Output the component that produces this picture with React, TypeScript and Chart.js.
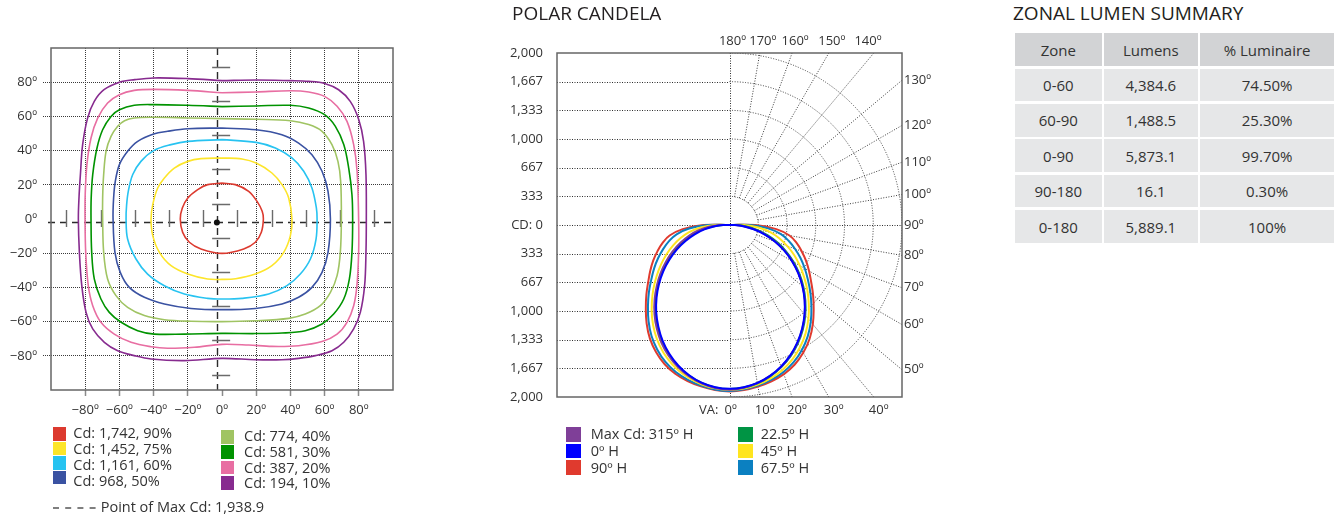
import React, { useEffect, useRef } from 'react';
import { Chart, registerables } from 'chart.js';

Chart.register(...registerables);

const FONT = "'Open Sans', 'Noto Sans', sans-serif";
const INK = '#333333';
Chart.defaults.font.family = FONT;

type Pt = [number, number];

// ---------------- Isocandela chart data ----------------
const isoTickValues = [-80, -60, -40, -20, 0, 20, 40, 60, 80];
const isoTickLabels = ['−80º', '−60º', '−40º', '−20º', '0º', '20º', '40º', '60º', '80º'];
const isoMaxPoint: Pt = [-3, -2];
const isoCrossTicks = [-91, -71, -51, -31, -11, 9, 29, 49, 69, 89];
const isoCrossCenter: Pt = [-0.5, 0.3];

const isoLevelLabels = [
  'Cd: 1,742, 90%', 'Cd: 1,452, 75%', 'Cd: 1,161, 60%', 'Cd: 968, 50%',
  'Cd: 774, 40%', 'Cd: 581, 30%', 'Cd: 387, 20%', 'Cd: 194, 10%',
];
const isoLevelColors = ['#dc3a2f', '#fde52a', '#27c3f1', '#3a52a2', '#a0c463', '#009300', '#e86ea2', '#872b8f'];
const isoMaxLabel = 'Point of Max Cd: 1,938.9';

const contour90: Pt[] = [[0, 21], [7.8, 20.1], [15.6, 16.2], [20.5, 10.3], [23.5, 4.5], [24.2, 0], [23, -7.8], [19.5, -13.6], [12.7, -17.5], [0, -20.1], [-12.3, -17.5], [-19.1, -13.6], [-23, -7.8], [-24.4, 0], [-23.2, 6.4], [-20, 12.3], [-14.2, 17.2], [-8.4, 20.1]];
const contour75: Pt[] = [[0, 35.7], [11.7, 35.1], [20, 32.7], [29.2, 26.9], [35.1, 20.1], [39, 12.3], [40.9, 0], [40, -9.7], [36.1, -19.5], [29.2, -27.3], [19.5, -32.2], [8, -34.9], [0, -35.3], [-8.4, -35.1], [-20, -32.2], [-29.8, -27.3], [-36.6, -19.5], [-40.5, -9.7], [-41.5, 0], [-40.5, 8.4], [-37.6, 18.1], [-33.7, 24], [-27.9, 29.8], [-20, 33.7], [-12.3, 35.3]];
const contour60: Pt[] = [[0, 46.4], [20, 44.8], [31.2, 41.5], [40.9, 35.7], [47.8, 27.9], [52.6, 18.1], [55.2, 6.4], [55.6, 0], [55, -11.7], [51.7, -23.4], [45.8, -32.2], [38, -39], [27.3, -43.9], [11.7, -46.4], [0, -46.8], [-8.4, -46.4], [-22, -43.9], [-33.7, -39], [-43.5, -32.2], [-50.3, -23.4], [-55.2, -11.7], [-56.1, 0], [-55.8, 8], [-54.8, 16.2], [-52.2, 26], [-47.4, 33.7], [-40, 40], [-29.8, 43.5], [-20, 45.4]];
const contour50: Pt[] = [[0, 53.2], [20, 52.2], [35, 49.3], [44.8, 44.4], [52.6, 37.6], [58.5, 27.9], [62, 16.2], [63.4, 0], [62, -19.5], [58.5, -31.2], [52.6, -40], [44.8, -45.8], [35.1, -49.7], [19.5, -52.3], [0, -53], [-18.1, -52.3], [-33.7, -49.7], [-45.4, -45.8], [-54.2, -40], [-59.5, -31.2], [-62.6, -19.5], [-63.7, 0], [-63.4, 12], [-62.4, 22], [-60, 31.8], [-55.2, 39.6], [-49.3, 45.4], [-40, 49.7], [-31.8, 51.3], [-20, 52.8]];
const contour40: Pt[] = [[0, 58.7], [20, 58.3], [40, 57.5], [50.7, 55.2], [58.5, 51.3], [64.3, 43.5], [67.8, 33.7], [69.4, 22], [69.8, 0], [69.2, -19.5], [67.3, -33.1], [63.4, -42.9], [57.5, -50.7], [48.7, -55.6], [39, -58.1], [19.5, -59.5], [0, -60], [-18.1, -59.8], [-33.7, -58.9], [-45.4, -56.5], [-55.2, -51.7], [-62, -44.8], [-66.9, -35.1], [-69.2, -19.5], [-69.8, 0], [-69.8, 12.3], [-69.2, 26], [-67.8, 39.6], [-64.9, 48.3], [-61, 54.2], [-57, 57.5], [-51.3, 59.1], [-40, 59.5], [-20, 59.1]];
const contour30: Pt[] = [[0, 65.7], [20, 66.1], [40, 66.5], [50.7, 64.9], [60, 61], [66.3, 54.2], [71.2, 43.5], [74.1, 29.8], [76, 14.2], [76.4, 0], [76, -19.5], [74.5, -35], [71.2, -46.8], [65.3, -55.6], [58.5, -61.4], [48.7, -65.3], [35.1, -66.7], [19.5, -67], [0, -66.9], [-22, -67.3], [-39.6, -67.3], [-49.3, -65.3], [-59, -60.4], [-65.9, -54.6], [-70.8, -46.8], [-74.7, -35], [-76.2, -19.5], [-76.6, 0], [-76.5, 12.3], [-75.6, 26], [-73.1, 41.5], [-69.8, 52.2], [-64.9, 60], [-60, 63.9], [-51.3, 66.5], [-40, 66.9], [-20, 66.5]];
const contour20: Pt[] = [[0, 73.8], [20, 74.3], [40, 75], [50.7, 74.3], [60, 71.7], [67.3, 65.9], [73.1, 57.1], [77, 43.5], [79, 27.9], [79.9, 0], [79.9, -19.5], [78.9, -39], [77, -50.7], [73.1, -60.4], [67.3, -67.3], [58.5, -71.7], [44.8, -74.1], [29.2, -74.5], [15.6, -73.7], [0, -73.3], [-16.2, -75], [-31.8, -75.6], [-41.5, -74.7], [-53.2, -72.1], [-63, -67.3], [-70.8, -60.4], [-75.6, -50.7], [-78.2, -39], [-79.7, -19.5], [-80.1, 0], [-80, 14.2], [-79, 31.8], [-76.6, 47.4], [-72.7, 59], [-66.9, 67.8], [-60, 72.7], [-51.3, 75.2], [-40, 75.8], [-20, 75.2]];
const contour10: Pt[] = [[0, 80.9], [20, 81.3], [40, 80.9], [50.7, 80.5], [60, 79.3], [68.2, 75.6], [75, 68.8], [80, 58.1], [82.8, 45.4], [84.2, 26], [84.4, 0], [84.2, -19.5], [83.4, -39], [80.9, -54.6], [77, -64.3], [71.2, -72.1], [64.3, -77], [54.6, -79.9], [44.8, -81.5], [35.1, -82.3], [19.5, -82.3], [0, -81.5], [-22, -82.8], [-41.5, -81.9], [-51.3, -79.9], [-61, -77], [-68.8, -72.1], [-75.6, -64.3], [-79.5, -54.6], [-82, -39], [-83.4, -19.5], [-84, 0], [-83.6, 13], [-82.8, 26], [-81.5, 43.5], [-78.6, 59], [-74.7, 68.8], [-69, 75.6], [-60, 80], [-51, 81.5], [-40, 82.5], [-20, 82.1]];
const isoContours = [contour90, contour75, contour60, contour50, contour40, contour30, contour20, contour10];

// ---------------- Polar candela data ----------------
const cdTickValues = [-2000, -1666.67, -1333.33, -1000, -666.67, -333.33, 0, 333.33, 666.67, 1000, 1333.33, 1666.67, 2000];
const cdTickLabels = ['2,000', '1,667', '1,333', '1,000', '667', '333', 'CD: 0', '333', '667', '1,000', '1,333', '1,667', '2,000'];
const cdRings = [333.33, 666.67, 1000, 1333.33, 1666.67, 2000];
const radialAngles = [10, 20, 30, 40, 50, 60, 70, 80, 100, 110, 120, 130, 140, 150, 160, 170];
const topAngles = [180, 170, 160, 150, 140];
const topAngleLabels = ['180º', '170º', '160º', '150º', '140º'];
const rightAngles = [130, 120, 110, 100, 90, 80, 70, 60, 50];
const rightAngleLabels = ['130º', '120º', '110º', '100º', '90º', '80º', '70º', '60º', '50º'];
const bottomAngles = [0, 10, 20, 30, 40];
const bottomAngleLabels = ['0º', '10º', '20º', '30º', '40º'];

// vertical angles (deg) of the candela readings below
const vaAngles = [0, 5, 10, 15, 20, 25, 30, 35, 40, 45, 50, 55, 60, 65, 70, 75, 80, 85, 90];
const planeLabels = ['Max Cd: 315º H', '0º H', '90º H', '22.5º H', '45º H', '67.5º H'];
const planeColors = ['#7f3f98', '#0000ff', '#e03a2e', '#009444', '#ffe51f', '#0b80c1'];
// "Right" = the plane itself, "Left" = the opposite plane (H + 180)
const cd315Right = [1915, 1900, 1866, 1817, 1753, 1672, 1578, 1472, 1357, 1234, 1106, 975, 840, 704, 566, 428, 293, 168, 65];
const cd315Left = [1915, 1902, 1869, 1821, 1756, 1675, 1580, 1470, 1353, 1228, 1101, 975, 849, 727, 605, 487, 369, 238, 103];
const cd0Right = [1905, 1894, 1865, 1816, 1751, 1670, 1575, 1469, 1354, 1231, 1103, 971, 835, 698, 559, 420, 285, 160, 60];
const cd0Left = [1905, 1893, 1861, 1808, 1738, 1651, 1552, 1439, 1322, 1196, 1067, 936, 803, 672, 543, 418, 295, 170, 60];
const cd90Right = [1935, 1926, 1907, 1881, 1845, 1790, 1712, 1618, 1503, 1380, 1265, 1156, 1064, 978, 890, 805, 706, 545, 300];
const cd90Left = [1935, 1925, 1905, 1878, 1840, 1783, 1705, 1610, 1495, 1372, 1258, 1150, 1060, 975, 888, 803, 705, 545, 300];
const cd225Right = [1907, 1897, 1869, 1822, 1759, 1681, 1587, 1482, 1367, 1244, 1118, 988, 856, 723, 589, 455, 323, 195, 82];
const cd225Left = [1907, 1896, 1865, 1814, 1746, 1662, 1564, 1453, 1336, 1210, 1082, 953, 824, 696, 571, 449, 328, 200, 79];
const cd45Right = [1918, 1909, 1884, 1846, 1794, 1725, 1638, 1538, 1423, 1300, 1178, 1056, 940, 827, 711, 597, 479, 337, 170];
const cd45Left = [1918, 1907, 1880, 1839, 1783, 1709, 1619, 1514, 1398, 1273, 1151, 1030, 916, 805, 695, 587, 475, 335, 166];
const cd675Right = [1929, 1918, 1897, 1865, 1821, 1760, 1678, 1581, 1466, 1343, 1224, 1110, 1007, 908, 807, 709, 601, 449, 240];
const cd675Left = [1929, 1919, 1896, 1864, 1820, 1757, 1674, 1576, 1460, 1337, 1220, 1107, 1009, 914, 819, 726, 623, 470, 252];
const planeRight = [cd315Right, cd0Right, cd90Right, cd225Right, cd45Right, cd675Right];
const planeLeft = [cd315Left, cd0Left, cd90Left, cd225Left, cd45Left, cd675Left];
const planeDrawOrder = [1, 0, 3, 4, 5, 2]; // first = drawn on top

// ---------------- Zonal lumen table ----------------
const zoneHeaders = ['Zone', 'Lumens', '% Luminaire'];
const zoneNames = ['0-60', '60-90', '0-90', '90-180', '0-180'];
const zoneLumens = ['4,384.6', '1,488.5', '5,873.1', '16.1', '5,889.1'];
const zonePercent = ['74.50%', '25.30%', '99.70%', '0.30%', '100%'];

const rad = (d: number) => (d * Math.PI) / 180;

const isoDecor = {
  id: 'isoDecor',
  beforeDatasetsDraw(chart: any) {
    const { ctx, chartArea: a, scales } = chart;
    const xs = scales.x, ys = scales.y;
    const mx = Math.round(xs.getPixelForValue(isoMaxPoint[0])) + 0.5;
    const my = Math.round(ys.getPixelForValue(isoMaxPoint[1])) + 0.5;
    ctx.save();
    ctx.strokeStyle = '#2b2b2b';
    ctx.lineWidth = 1.4;
    ctx.setLineDash([7, 5]);
    ctx.beginPath();
    ctx.moveTo(mx, a.top);
    ctx.lineTo(mx, a.bottom);
    ctx.stroke();
    ctx.beginPath();
    ctx.moveTo(a.left - 3, my);
    ctx.lineTo(a.right + 2, my);
    ctx.stroke();
    ctx.setLineDash([]);
    ctx.strokeStyle = '#6b6b6b';
    ctx.lineWidth = 1.4;
    const tcx = xs.getPixelForValue(isoCrossCenter[0]);
    const tcy = ys.getPixelForValue(isoCrossCenter[1]);
    ctx.beginPath();
    isoCrossTicks.forEach((v) => {
      const py = Math.round(ys.getPixelForValue(v)) + 0.5;
      ctx.moveTo(tcx - 9, py);
      ctx.lineTo(tcx + 9, py);
      const px = Math.round(xs.getPixelForValue(v)) + 0.5;
      ctx.moveTo(px, tcy - 8.5);
      ctx.lineTo(px, tcy + 8.5);
    });
    ctx.stroke();
    ctx.restore();
  },
  afterDatasetsDraw(chart: any) {
    const { ctx, scales } = chart;
    ctx.save();
    ctx.fillStyle = '#111';
    ctx.beginPath();
    ctx.arc(scales.x.getPixelForValue(isoMaxPoint[0]), scales.y.getPixelForValue(isoMaxPoint[1]), 3, 0, Math.PI * 2);
    ctx.fill();
    ctx.restore();
  },
  afterDraw(chart: any) {
    const { ctx, chartArea: a } = chart;
    ctx.save();
    ctx.strokeStyle = '#666';
    ctx.lineWidth = 1.5;
    ctx.strokeRect(a.left, a.top, a.right - a.left, a.bottom - a.top);
    ctx.restore();
  },
};

const polarDecor = {
  id: 'polarDecor',
  beforeDatasetsDraw(chart: any) {
    const { ctx, chartArea: a, scales } = chart;
    const x = scales.x, y = scales.y;
    const cx = x.getPixelForValue(0), cy = y.getPixelForValue(0);
    const kx = (x.getPixelForValue(2000) - cx) / 2000;
    const ky = (cy - y.getPixelForValue(2000)) / 2000;
    ctx.save();
    ctx.beginPath();
    ctx.rect(a.left, a.top, a.right - a.left, a.bottom - a.top);
    ctx.clip();
    ctx.strokeStyle = '#2e2e2e';
    ctx.lineWidth = 1;
    ctx.setLineDash([1, 1.5]);
    ctx.beginPath();
    cdTickValues.forEach((v) => {
      if (Math.abs(v) >= 2000) return;
      const py = Math.round(y.getPixelForValue(v)) + 0.5;
      ctx.moveTo(a.left, py);
      ctx.lineTo(v === 0 ? a.right : cx, py);
    });
    const vx = Math.round(cx) + 0.5;
    ctx.moveTo(vx, a.top);
    ctx.lineTo(vx, a.bottom);
    ctx.stroke();
    ctx.strokeStyle = '#3a3a3a';
    ctx.setLineDash([1, 1.6]);
    cdRings.forEach((r) => {
      ctx.beginPath();
      ctx.ellipse(cx, cy, r * kx, r * ky, 0, -Math.PI / 2, Math.PI / 2);
      ctx.stroke();
    });
    ctx.beginPath();
    radialAngles.forEach((deg) => {
      const dx = Math.sin(rad(deg)), dy = Math.cos(rad(deg));
      const r0 = cdRings[0];
      const sx = cx + r0 * kx * dx, sy = cy + r0 * ky * dy;
      let t = Infinity;
      if (dx > 1e-6) t = Math.min(t, (a.right - cx) / dx);
      if (dy > 1e-6) t = Math.min(t, (a.bottom - cy) / dy);
      if (dy < -1e-6) t = Math.min(t, (a.top - cy) / dy);
      ctx.moveTo(sx, sy);
      ctx.lineTo(cx + t * dx, cy + t * dy);
    });
    ctx.stroke();
    ctx.restore();
  },
  afterDraw(chart: any) {
    const { ctx, chartArea: a, scales } = chart;
    const cx = scales.x.getPixelForValue(0), cy = scales.y.getPixelForValue(0);
    ctx.save();
    ctx.strokeStyle = '#666';
    ctx.lineWidth = 1.5;
    ctx.strokeRect(a.left, a.top, a.right - a.left, a.bottom - a.top);
    ctx.fillStyle = INK;
    ctx.font = `13px ${FONT}`;
    ctx.textBaseline = 'middle';
    ctx.textAlign = 'center';
    topAngles.forEach((deg, i) => {
      const dx = Math.sin(rad(deg)), dy = Math.cos(rad(deg));
      const px = cx + ((a.top - cy) / dy) * dx;
      ctx.fillText(topAngleLabels[i], Math.min(px + 3, a.right - 34), a.top - 12);
    });
    ctx.textAlign = 'left';
    rightAngles.forEach((deg, i) => {
      const dx = Math.sin(rad(deg)), dy = Math.cos(rad(deg));
      const py = cy + ((a.right - cx) / dx) * dy;
      ctx.fillText(rightAngleLabels[i], a.right + 2, py);
    });
    bottomAngles.forEach((deg, i) => {
      const dx = Math.sin(rad(deg)), dy = Math.cos(rad(deg));
      const px = cx + ((a.bottom - cy) / dy) * dx;
      ctx.fillText(bottomAngleLabels[i], px - 5, a.bottom + 13);
    });
    ctx.textAlign = 'right';
    ctx.fillText('VA:', cx - 11, a.bottom + 13);
    ctx.restore();
  },
};

function IsoChart() {
  const ref = useRef<HTMLCanvasElement>(null);
  useEffect(() => {
    const tickFont = { family: FONT, size: 13 };
    const chart = new Chart(ref.current as HTMLCanvasElement, {
      type: 'scatter',
      data: {
        datasets: isoContours.map((c, i) => ({
          label: isoLevelLabels[i],
          data: [...c, c[0]].map(([x, y]) => ({ x, y })),
          showLine: true,
          borderColor: isoLevelColors[i],
          backgroundColor: isoLevelColors[i],
          borderWidth: 1.6,
          pointRadius: 0,
          tension: 0.35,
          fill: false,
        })),
      },
      options: {
        animation: false,
        responsive: true,
        maintainAspectRatio: false,
        events: [],
        layout: { padding: { top: 48, right: 7, left: 0, bottom: 0 } },
        plugins: { legend: { display: false }, tooltip: { enabled: false } },
        scales: {
          x: {
            type: 'linear', min: -100, max: 100,
            afterBuildTicks: (s: any) => { s.ticks = isoTickValues.map((v) => ({ value: v })); },
            afterFit: (s: any) => { s.height = 40; },
            ticks: { callback: (_v: any, i: number) => isoTickLabels[i], font: tickFont, color: INK, padding: 6, autoSkip: false, maxRotation: 0 },
            grid: {
              color: (c: any) => (c.tick && c.tick.value === 0 ? 'rgba(0,0,0,0)' : '#3a3a3a'),
              lineWidth: 1, tickLength: 6, tickColor: '#8a8a8a', tickWidth: 1.5, tickBorderDash: [],
            },
            border: { display: false, dash: [1, 1] },
          },
          y: {
            type: 'linear', min: -100, max: 100,
            afterBuildTicks: (s: any) => { s.ticks = isoTickValues.map((v) => ({ value: v })); },
            afterFit: (s: any) => { s.width = 51; },
            ticks: { callback: (_v: any, i: number) => isoTickLabels[i], font: tickFont, color: INK, padding: 6, autoSkip: false },
            grid: {
              color: (c: any) => (c.tick && c.tick.value === 0 ? 'rgba(0,0,0,0)' : '#3a3a3a'),
              lineWidth: 1, tickLength: 8,
              tickColor: (c: any) => (c.tick && c.tick.value === 0 ? 'rgba(0,0,0,0)' : '#3a3a3a'),
              tickWidth: 1, tickBorderDash: [1, 1],
            },
            border: { display: false, dash: [1, 1] },
          },
        },
      } as any,
      plugins: [isoDecor],
    });
    return () => chart.destroy();
  }, []);
  return (
    <div style={{ position: 'absolute', left: 0, top: 0, width: 400, height: 430 }}>
      <canvas ref={ref} />
    </div>
  );
}

function PolarChart() {
  const ref = useRef<HTMLCanvasElement>(null);
  useEffect(() => {
    const datasets = planeDrawOrder.map((p) => {
      const left = planeLeft[p], right = planeRight[p];
      const pts: { x: number; y: number }[] = [{ x: 0, y: 0 }];
      for (let i = vaAngles.length - 1; i >= 0; i--) {
        const t = rad(vaAngles[i]);
        pts.push({ x: -left[i] * Math.sin(t), y: -left[i] * Math.cos(t) });
      }
      for (let i = 1; i < vaAngles.length; i++) {
        const t = rad(vaAngles[i]);
        pts.push({ x: right[i] * Math.sin(t), y: -right[i] * Math.cos(t) });
      }
      pts.push({ x: 0, y: 0 });
      return {
        label: planeLabels[p],
        data: pts,
        showLine: true,
        borderColor: planeColors[p],
        backgroundColor: planeColors[p],
        borderWidth: 2,
        pointRadius: 0,
        tension: 0.4,
        fill: false,
      };
    });
    const chart = new Chart(ref.current as HTMLCanvasElement, {
      type: 'scatter',
      data: { datasets },
      options: {
        animation: false,
        responsive: true,
        maintainAspectRatio: false,
        events: [],
        layout: { padding: { top: 53, right: 38, left: 0, bottom: 33 } },
        plugins: { legend: { display: false }, tooltip: { enabled: false } },
        scales: {
          x: { type: 'linear', min: -2000, max: 2000, display: false },
          y: {
            type: 'linear', min: -2000, max: 2000,
            afterBuildTicks: (s: any) => { s.ticks = cdTickValues.map((v) => ({ value: v })); },
            afterFit: (s: any) => { s.width = 67; },
            ticks: { callback: (_v: any, i: number) => cdTickLabels[i], font: { family: FONT, size: 13 }, color: INK, padding: 14, autoSkip: false },
            grid: { display: false, drawTicks: false },
            border: { display: false },
          },
        },
      } as any,
      plugins: [polarDecor],
    });
    return () => chart.destroy();
  }, []);
  return (
    <div style={{ position: 'absolute', left: 490, top: 0, width: 450, height: 430 }}>
      <canvas ref={ref} />
    </div>
  );
}

const abs = (o: React.CSSProperties): React.CSSProperties => ({ position: 'absolute', whiteSpace: 'nowrap', ...o });

export default function App() {
  useEffect(() => {
    document.body.style.margin = '0';
    document.body.style.background = '#fff';
  }, []);
  const legendFont = 14.5;
  const headerBg = '#d2d3d5';
  const bodyBg = '#e6e7e8';
  return (
    <div style={{ position: 'absolute', left: 0, top: 0, width: 1339, height: 518, overflow: 'hidden', background: '#fff', fontFamily: FONT, color: INK }}>
      <IsoChart />
      <PolarChart />

      <div style={abs({ left: 512, top: 0, fontSize: 19, lineHeight: '26px', color: '#231f20' })}>POLAR CANDELA</div>
      <div style={abs({ left: 1013, top: 0, fontSize: 19, lineHeight: '26px', color: '#231f20' })}>ZONAL LUMEN SUMMARY</div>

      {/* zonal table */}
      <div style={{ position: 'absolute', left: 1015, top: 33.3, display: 'grid', gridTemplateColumns: '86.7px 93.7px 134.3px', gridAutoRows: '32.6px', columnGap: 2.3, rowGap: 2.8, fontSize: 15 }}>
        {zoneHeaders.map((h) => (
          <div key={h} style={{ background: headerBg, display: 'flex', alignItems: 'center', justifyContent: 'center' }}>{h}</div>
        ))}
        {zoneNames.map((z, i) => (
          <React.Fragment key={z}>
            <div style={{ background: bodyBg, display: 'flex', alignItems: 'center', justifyContent: 'center' }}>{z}</div>
            <div style={{ background: bodyBg, display: 'flex', alignItems: 'center', justifyContent: 'center' }}>{zoneLumens[i]}</div>
            <div style={{ background: bodyBg, display: 'flex', alignItems: 'center', justifyContent: 'center' }}>{zonePercent[i]}</div>
          </React.Fragment>
        ))}
      </div>

      {/* isocandela legend */}
      {isoLevelLabels.slice(0, 4).map((lab, i) => (
        <React.Fragment key={lab}>
          <div style={abs({ left: 53, top: 427.3 + i * 14.5, width: 13, height: 13.5, background: isoLevelColors[i] })} />
          <div style={abs({ left: 73.3, top: 433 + i * 16 - 10, height: 20, lineHeight: '20px', fontSize: legendFont })}>{lab}</div>
        </React.Fragment>
      ))}
      {isoLevelLabels.slice(4).map((lab, i) => (
        <React.Fragment key={lab}>
          <div style={abs({ left: 221, top: 430 + i * 15.4, width: 12.5, height: 13.5, background: isoLevelColors[i + 4] })} />
          <div style={abs({ left: 244, top: 435.7 + i * 15.9 - 10, height: 20, lineHeight: '20px', fontSize: legendFont })}>{lab}</div>
        </React.Fragment>
      ))}
      <svg style={abs({ left: 53, top: 505.5, width: 44, height: 4 })} width={44} height={4}>
        <line x1={0} y1={2} x2={44} y2={2} stroke="#555" strokeWidth={1.3} strokeDasharray="6 6.2" />
      </svg>
      <div style={abs({ left: 100.7, top: 507.3 - 10, height: 20, lineHeight: '20px', fontSize: legendFont })}>{isoMaxLabel}</div>

      {/* polar legend */}
      {planeLabels.map((lab, i) => {
        const col = i < 3 ? 0 : 1;
        const row = i % 3;
        return (
          <React.Fragment key={lab}>
            <div style={abs({ left: col ? 738 : 566, top: 427 + row * 16.5, width: 15, height: 14.5, background: planeColors[i] })} />
            <div style={abs({ left: col ? 760.7 : 590.7, top: 434 + row * 16.8 - 10, height: 20, lineHeight: '20px', fontSize: legendFont })}>{lab}</div>
          </React.Fragment>
        );
      })}
    </div>
  );
}
